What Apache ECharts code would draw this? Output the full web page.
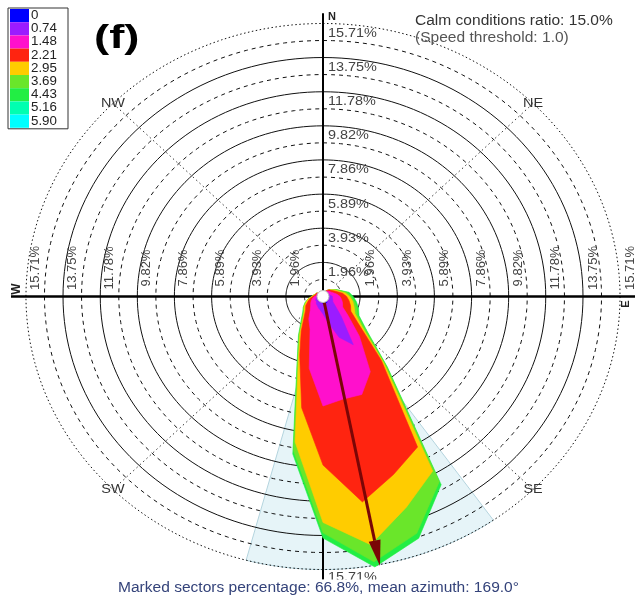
<!DOCTYPE html>
<html><head><meta charset="utf-8">
<script src="https://cdn.jsdelivr.net/npm/echarts@6/dist/echarts.min.js"></script>
<style>html,body{margin:0;padding:0;background:#fff}#c{width:638px;height:599px}</style>
</head><body><div id="c"></div>
<script>
// ---------------- data ----------------
const directions = [0,10,20,30,40,50,60,70,80,90,100,110,120,130,140,150,160,170,180,190,200,210,220,230,240,250,260,270,280,290,300,310,320,330,340,350];
const speedLabels = ['0','0.74','1.48','2.21','2.95','3.69','4.43','5.16','5.90'];
const speedColors = ['#0000ff','#9b1cff','#ff10cc','#ff2410','#ffcc00','#6ae62a','#22ee44','#00ffb0','#00ffff'];
// frequency (%) per direction for each speed class
const cls0 = [.1,.1,.1,.1,.1,.1,.1,.15,.15,.2,.2,.2,.2,.25,.3,.4,.4,.4,.4,.35,.3,.3,.25,.2,.2,.15,.15,.15,.1,.1,.1,.1,.1,.1,.1,.1];
const cls1 = [.1,.1,.15,.15,.2,.2,.2,.2,.25,.3,.3,.35,.4,.6,1.2,2.8,2.1,1.1,.6,.45,.4,.3,.3,.25,.25,.25,.2,.15,.15,.15,.15,.1,.1,.1,.1,.1];
const cls2 = [0,0,.05,.1,.1,.15,.2,.25,.35,.4,.5,.55,.6,.9,1.5,1.8,3.5,4.5,5.3,3.4,1.3,.9,.5,.4,.3,.25,.2,.15,.1,.1,.1,.1,.1,.1,0,0];
const cls3 = [0,0,0,.05,.1,.1,.15,.2,.3,.35,.4,.45,.5,.7,1.8,5.0,4.9,6.0,3.4,2.3,1.6,.8,.5,.35,.3,.2,.15,.1,.1,.05,.05,0,0,0,0,0];
const cls4 = [0,0,0,0,0,.05,.1,.1,.15,.15,.2,.2,.25,.25,.2,1.6,2.0,2.5,3.3,2.0,.2,.15,.1,.1,.1,.1,.1,.05,.05,0,0,0,0,0,0,0];
const cls5 = [0,0,0,0,0,0,.05,.1,.1,.1,.1,.15,.15,.2,.2,.7,1.6,1.0,.6,.5,.15,.1,.1,.05,.05,.05,0,0,0,0,0,0,0,0,0,0];
const cls6 = [0,0,0,0,0,0,0,0,.1,.1,.1,.1,.1,.1,.1,.2,.3,.3,.3,.2,.05,.05,.05,.05,0,0,0,0,0,0,0,0,0,0,0,0];
const classValues = [cls0, cls1, cls2, cls3, cls4, cls5, cls6];

const ringMajor = [1.96,3.93,5.89,7.86,9.82,11.78,13.75,15.71];
const ringLabels = ['1.96%','3.93%','5.89%','7.86%','9.82%','11.78%','13.75%','15.71%'];
const ringMinor = [0.98,2.95,4.91,6.87,8.84,10.80,12.77,14.73];
const spokeAngles = [45,135,225,315];
const cornerNames = ['NE','SE','SW','NW'];
const markedSector = [145,195];
const meanAzimuth = 169.0;
const arrowLength = 15.8;
const calmText = 'Calm conditions ratio: 15.0%';
const thresholdText = '(Speed threshold: 1.0)';
const footerText = 'Marked sectors percentage: 66.8%, mean azimuth: 169.0\u00b0';
const panelTag = '(f)';

// ---------------- chart ----------------
const chart = echarts.init(document.getElementById('c'), null, {renderer:'canvas'});
const RAD = Math.PI/180;
const pol = (r, az) => [r*Math.sin(az*RAD), r*Math.cos(az*RAD)];
const FONT = 'Liberation Sans, Arial, sans-serif';
const SX = 1.11; // horizontal stretch of the original picture

function ellipsePts(api, r) {
  const pts = [];
  for (let i = 0; i < 180; i++) pts.push(api.coord(pol(r, i*2)));
  return pts;
}

const series = [];
// marked sector
series.push({
  type:'custom', coordinateSystem:'cartesian2d', clip:false, silent:true, z:1,
  data:[[markedSector[0], markedSector[1]]],
  renderItem(p, api) {
    const a0 = api.value(0), a1 = api.value(1);
    const pts = [api.coord([0,0])];
    for (let a = a0; a <= a1 + 1e-6; a += 1) pts.push(api.coord(pol(15.71, a)));
    return {type:'polygon', shape:{points:pts}, style:{fill:'#e6f4f8', stroke:'#b4d4de', lineWidth:1}};
  }
});
// rings
series.push({
  type:'custom', coordinateSystem:'cartesian2d', clip:false, silent:true, z:2,
  data: ringMajor.map((r,i)=>[r, 1]).concat(ringMinor.map(r=>[r,0])),
  renderItem(p, api) {
    const r = api.value(0), major = api.value(1);
    const outer = r > 15.7;
    return {type:'polygon', shape:{points:ellipsePts(api, r)},
      style:{fill:'none', stroke:'#111', lineWidth: 1,
        lineDash: outer ? [1.5,2.5] : (major ? null : [4,4])}};
  }
});
// spokes
series.push({
  type:'custom', coordinateSystem:'cartesian2d', clip:false, silent:true, z:2,
  data: spokeAngles.map(a=>[a]),
  renderItem(p, api) {
    const a = api.value(0);
    const p0 = api.coord(pol(0.98, a)), p1 = api.coord(pol(15.71, a));
    return {type:'line', shape:{x1:p0[0],y1:p0[1],x2:p1[0],y2:p1[1]}, style:{stroke:'#333', lineWidth:1, lineDash:[1.5,3]}};
  }
});
// axes cross
series.push({
  type:'custom', coordinateSystem:'cartesian2d', clip:false, silent:true, z:3,
  data:[[0],[1]],
  renderItem(p, api) {
    const horiz = api.value(0) === 0;
    const a = horiz ? api.coord([-16.5,0]) : api.coord([0,16.3]);
    const b = horiz ? api.coord([16.5,0]) : api.coord([0,-16.3]);
    return {type:'line', shape:{x1:a[0],y1:a[1],x2:b[0],y2:b[1]}, style:{stroke:'#000', lineWidth: horiz ? 2.6 : 2}};
  }
});
// rose layers (outer first)
series.push({
  type:'custom', coordinateSystem:'cartesian2d', clip:false, silent:true, z:4,
  data: classValues.map((v,k)=>[classValues.length-1-k]),
  renderItem(p, api) {
    const k = api.value(0);
    const pts = directions.map((d,i)=>{
      let r = 0; for (let j = 0; j <= k; j++) r += classValues[j][i];
      return api.coord(pol(r, d));
    });
    return {type:'polygon', shape:{points:pts}, style:{fill:speedColors[k], stroke:speedColors[k], lineWidth:0.6}};
  }
});
// arrow + calm circle
series.push({
  type:'custom', coordinateSystem:'cartesian2d', clip:false, silent:true, z:5,
  data:[[meanAzimuth, arrowLength]],
  renderItem(p, api) {
    const az = api.value(0), L = api.value(1);
    const c = api.coord([0,0]), t = api.coord(pol(L, az));
    const dx = t[0]-c[0], dy = t[1]-c[1], len = Math.hypot(dx,dy);
    const ux = dx/len, uy = dy/len, hl = 26, hw = 6;
    const bx = t[0]-ux*hl, by = t[1]-uy*hl;
    return {type:'group', children:[
      {type:'line', shape:{x1:c[0],y1:c[1],x2:bx,y2:by}, style:{stroke:'#7a0606', lineWidth:3}},
      {type:'polygon', shape:{points:[[t[0],t[1]],[bx-uy*hw,by+ux*hw],[bx+uy*hw,by-ux*hw]]}, style:{fill:'#7a0606'}},
      {type:'circle', shape:{cx:c[0], cy:c[1], r:6}, style:{fill:'#fff', stroke:'#bbb', lineWidth:1}}
    ]};
  }
});
// ring labels
series.push({
  type:'custom', coordinateSystem:'cartesian2d', clip:false, silent:true, z:6,
  data: ringMajor.map((r,i)=>[r,i]),
  renderItem(p, api) {
    const r = api.value(0), i = api.value(1), txt = ringLabels[i];
    const n = api.coord([0, r]), w = api.coord([-r, 0]), e = api.coord([r, 0]);
    const st = {text: txt, fill:'#444', font:'13px ' + FONT, align:'center', verticalAlign:'middle'};
    return {type:'group', children:[
      {type:'text', x:n[0]+5, y:n[1]+10, scaleX:SX, style:Object.assign({}, st, {align:'left'})},
      {type:'text', x:w[0]+9, y:268, rotation:Math.PI/2, style:Object.assign({}, st)},
      {type:'text', x:e[0]+10, y:268, rotation:Math.PI/2, style:Object.assign({}, st)}
    ]};
  }
});
// compass names
series.push({
  type:'custom', coordinateSystem:'cartesian2d', clip:false, silent:true, z:6,
  data: spokeAngles.map((a,i)=>[a,i]),
  renderItem(p, api) {
    const a = api.value(0), i = api.value(1);
    const q = api.coord(pol(15.71, a));
    return {type:'text', x:q[0], y:q[1], scaleX:SX, style:{text:cornerNames[i], fill:'#333', font:'13px ' + FONT, align:'center', verticalAlign:'middle'}};
  }
});

const LX = 8, LY = 8, ROW = 13.2;
const legendGraphics = [{type:'rect', x:LX, y:LY, shape:{width:60, height:ROW*speedLabels.length+2}, style:{fill:'#fff', stroke:'#333', lineWidth:1}}];
speedLabels.forEach((lab, i) => {
  legendGraphics.push({type:'rect', x:LX+2, y:LY+1 + i*ROW, shape:{width:19, height:ROW}, style:{fill:speedColors[i]}});
  legendGraphics.push({type:'text', x:LX+23, y:LY+1 + i*ROW + ROW/2, scaleX:SX, style:{text:lab, fill:'#222', font:'12px ' + FONT, verticalAlign:'middle'}});
});

chart.setOption({
  animation:false,
  grid:{left:11, top:13.2, width:624, height:566.6, containLabel:false},
  xAxis:{type:'value', min:-16.5, max:16.5, show:false},
  yAxis:{type:'value', min:-16.3, max:16.3, show:false},
  series,
  graphic: legendGraphics.concat([
    {type:'text', x:94, y:39, scaleX:1.38, style:{text:panelTag, fill:'#000', font:'bold 33px ' + FONT, verticalAlign:'middle'}},
    {type:'text', x:415, y:21, scaleX:SX, style:{text:calmText, fill:'#333', font:'14px ' + FONT, verticalAlign:'middle'}},
    {type:'text', x:415, y:38, scaleX:SX, style:{text:thresholdText, fill:'#555', font:'14px ' + FONT, verticalAlign:'middle'}},
    {type:'text', x:328, y:17, style:{text:'N', fill:'#222', font:'bold 11px ' + FONT, verticalAlign:'middle'}},
    {type:'text', x:17, y:289, rotation:Math.PI/2, style:{text:'W', fill:'#222', font:'bold 12px ' + FONT, align:'center', verticalAlign:'middle'}, z:10},
    {type:'text', x:626, y:304, rotation:Math.PI/2, style:{text:'E', fill:'#222', font:'bold 11px ' + FONT, align:'center', verticalAlign:'middle'}, z:10},
    {type:'text', x:328, y:577, scaleX:SX, style:{text:'15.71%', fill:'#444', font:'13px ' + FONT, verticalAlign:'middle'}, z:10},
    {type:'text', x:118, y:588, scaleX:SX, style:{text:footerText, fill:'#34437a', font:'14px ' + FONT, verticalAlign:'middle', backgroundColor:'#fff', padding:[1,0,2,0]}, z:11}
  ])
});
</script>
</body></html>
